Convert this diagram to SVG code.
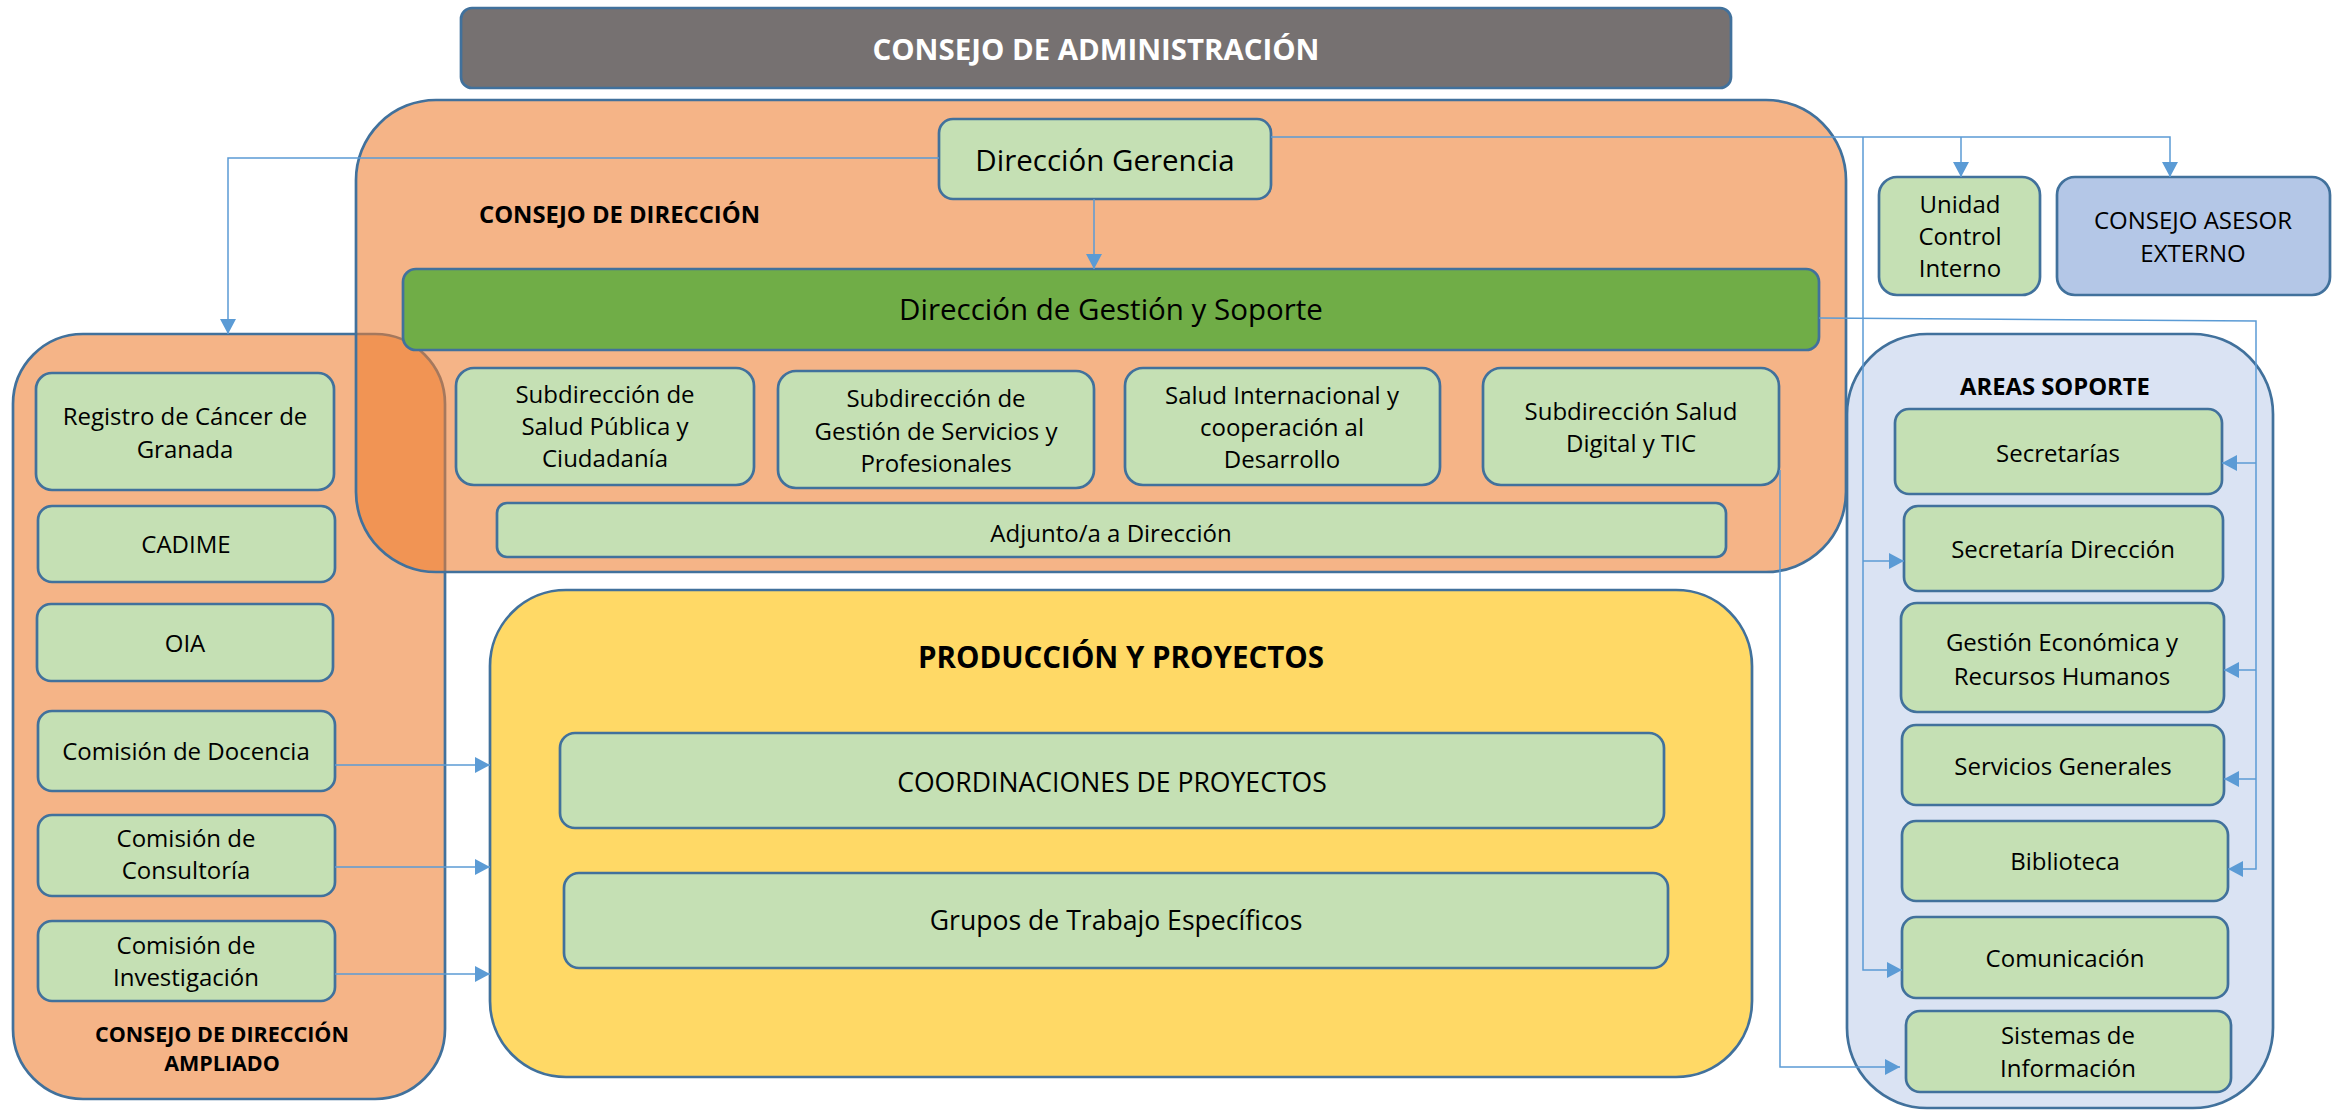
<svg xmlns="http://www.w3.org/2000/svg" width="2347" height="1110" viewBox="0 0 2347 1110">
<defs>
<style>
.box{stroke:#41719C;stroke-width:2.7}
.lg{fill:#C5E0B4}
.t{font-family:"Open Sans","Noto Sans","Liberation Sans",sans-serif;fill:#000;text-anchor:middle}
.s24{font-size:24px}
.s26{font-size:26.6px}
.s29{font-size:29.5px}
.b{font-weight:bold}
.c{fill:none;stroke:#5B9BD5;stroke-width:1.5}
.ca{fill:none;stroke:#5B9BD5;stroke-width:1.5;marker-end:url(#ah)}
</style>
<marker id="ah" markerUnits="userSpaceOnUse" markerWidth="16" markerHeight="16" refX="15" refY="8" orient="auto">
<path d="M0,0 L15,8 L0,16 z" fill="#5B9BD5"/>
</marker>
</defs>
<rect width="2347" height="1110" fill="#fff"/>

<g id="consejo-administracion">
<rect class="box" x="461" y="8" width="1270" height="80" rx="11" fill="#767171"/>
<text class="t b" x="1096" y="60" style="font-size:29.4px;fill:#fff">CONSEJO DE ADMINISTRACIÓN</text>
</g>

<g id="consejo-direccion-ampliado">
<rect class="box" x="13" y="334" width="432" height="765" rx="70" fill="#ED7D31" fill-opacity="0.58"/>
<text class="t b" x="222" y="1042" style="font-size:21.5px">CONSEJO DE DIRECCIÓN</text>
<text class="t b" x="222" y="1071" style="font-size:21.5px">AMPLIADO</text>
</g>

<g id="consejo-direccion">
<rect class="box" x="356" y="100" width="1490" height="472" rx="80" fill="#ED7D31" fill-opacity="0.58"/>
<text class="t b" x="479" y="223" style="font-size:23.8px;text-anchor:start">CONSEJO DE DIRECCIÓN</text>
</g>

<g id="produccion-proyectos">
<rect class="box" x="490" y="590" width="1262" height="487" rx="76" fill="#FFD966"/>
<text class="t b" x="1121" y="668" style="font-size:29.5px">PRODUCCIÓN Y PROYECTOS</text>
</g>

<g id="areas-soporte">
<rect class="box" x="1847" y="334" width="426" height="774" rx="80" fill="#DAE3F3"/>
<text class="t b" x="2055" y="395" style="font-size:23.8px">AREAS SOPORTE</text>
</g>

<g id="direccion-gerencia">
<rect class="box lg" x="939" y="119" width="332" height="80" rx="14"/>
<text class="t s29" x="1105" y="171">Dirección Gerencia</text>
</g>

<g id="direccion-gestion-soporte">
<rect class="box" x="403" y="269" width="1416" height="81" rx="13" fill="#70AD47"/>
<text class="t s29" x="1111" y="320">Dirección de Gestión y Soporte</text>
</g>

<g id="sub-salud-publica">
<rect class="box lg" x="456" y="368" width="298" height="117" rx="18"/>
<text class="t s24" x="605" y="403">Subdirección de</text>
<text class="t s24" x="605" y="435">Salud Pública y</text>
<text class="t s24" x="605" y="467">Ciudadanía</text>
</g>

<g id="sub-gestion-servicios">
<rect class="box lg" x="778" y="371" width="316" height="117" rx="18"/>
<text class="t s24" x="936" y="407">Subdirección de</text>
<text class="t s24" x="936" y="440">Gestión de Servicios y</text>
<text class="t s24" x="936" y="472">Profesionales</text>
</g>

<g id="salud-internacional">
<rect class="box lg" x="1125" y="368" width="315" height="117" rx="18"/>
<text class="t s24" x="1282" y="404">Salud Internacional y</text>
<text class="t s24" x="1282" y="436">cooperación al</text>
<text class="t s24" x="1282" y="468">Desarrollo</text>
</g>

<g id="sub-salud-digital">
<rect class="box lg" x="1483" y="368" width="296" height="117" rx="18"/>
<text class="t s24" x="1631" y="420">Subdirección Salud</text>
<text class="t s24" x="1631" y="452">Digital y TIC</text>
</g>

<g id="adjunto-direccion">
<rect class="box lg" x="497" y="503" width="1229" height="54" rx="10"/>
<text class="t s24" x="1111" y="542">Adjunto/a a Dirección</text>
</g>

<g id="unidad-control-interno">
<rect class="box lg" x="1879" y="177" width="161" height="118" rx="18"/>
<text class="t s24" x="1960" y="213">Unidad</text>
<text class="t s24" x="1960" y="245">Control</text>
<text class="t s24" x="1960" y="277">Interno</text>
</g>

<g id="consejo-asesor-externo">
<rect class="box" x="2057" y="177" width="273" height="118" rx="18" fill="#B4C7E7"/>
<text class="t s24" x="2193" y="229">CONSEJO ASESOR</text>
<text class="t s24" x="2193" y="262">EXTERNO</text>
</g>

<g id="registro-cancer">
<rect class="box lg" x="36" y="373" width="298" height="117" rx="16"/>
<text class="t s24" x="185" y="425">Registro de Cáncer de</text>
<text class="t s24" x="185" y="458">Granada</text>
</g>

<g id="cadime">
<rect class="box lg" x="38" y="506" width="297" height="76" rx="14"/>
<text class="t s24" x="186" y="553">CADIME</text>
</g>

<g id="oia">
<rect class="box lg" x="37" y="604" width="296" height="77" rx="14"/>
<text class="t s24" x="185" y="652">OIA</text>
</g>

<g id="comision-docencia">
<rect class="box lg" x="38" y="711" width="297" height="80" rx="14"/>
<text class="t s24" x="186" y="760">Comisión de Docencia</text>
</g>

<g id="comision-consultoria">
<rect class="box lg" x="38" y="815" width="297" height="81" rx="14"/>
<text class="t s24" x="186" y="847">Comisión de</text>
<text class="t s24" x="186" y="879">Consultoría</text>
</g>

<g id="comision-investigacion">
<rect class="box lg" x="38" y="921" width="297" height="80" rx="14"/>
<text class="t s24" x="186" y="954">Comisión de</text>
<text class="t s24" x="186" y="986">Investigación</text>
</g>

<g id="coordinaciones-proyectos">
<rect class="box lg" x="560" y="733" width="1104" height="95" rx="15"/>
<text class="t s26" x="1112" y="792">COORDINACIONES DE PROYECTOS</text>
</g>

<g id="grupos-trabajo">
<rect class="box lg" x="564" y="873" width="1104" height="95" rx="15"/>
<text class="t s26" x="1116" y="930">Grupos de Trabajo Específicos</text>
</g>

<g id="secretarias">
<rect class="box lg" x="1895" y="409" width="327" height="85" rx="14"/>
<text class="t s24" x="2058" y="462">Secretarías</text>
</g>

<g id="secretaria-direccion">
<rect class="box lg" x="1904" y="506" width="319" height="85" rx="14"/>
<text class="t s24" x="2063" y="558">Secretaría Dirección</text>
</g>

<g id="gestion-economica">
<rect class="box lg" x="1901" y="603" width="323" height="109" rx="16"/>
<text class="t s24" x="2062" y="651">Gestión Económica y</text>
<text class="t s24" x="2062" y="685">Recursos Humanos</text>
</g>

<g id="servicios-generales">
<rect class="box lg" x="1902" y="725" width="322" height="80" rx="14"/>
<text class="t s24" x="2063" y="775">Servicios Generales</text>
</g>

<g id="biblioteca">
<rect class="box lg" x="1902" y="821" width="326" height="80" rx="14"/>
<text class="t s24" x="2065" y="870">Biblioteca</text>
</g>

<g id="comunicacion">
<rect class="box lg" x="1902" y="917" width="326" height="81" rx="14"/>
<text class="t s24" x="2065" y="967">Comunicación</text>
</g>

<g id="sistemas-informacion">
<rect class="box lg" x="1906" y="1011" width="325" height="81" rx="14"/>
<text class="t s24" x="2068" y="1044">Sistemas de</text>
<text class="t s24" x="2068" y="1077">Información</text>
</g>

<g id="connectors">
<path class="ca" d="M939,158 H228 V334"/>
<path class="ca" d="M1094,199 V269"/>
<path class="ca" d="M1271,137 H2170 V177"/>
<path class="ca" d="M1961,137 V177"/>
<path class="ca" d="M1863,137 V970 H1902"/>
<path class="ca" d="M1863,561 H1904"/>
<path class="ca" d="M1819,318 L2256,321 V869 H2228"/>
<path class="ca" d="M2256,463 H2222"/>
<path class="ca" d="M2256,670 H2224"/>
<path class="ca" d="M2256,779 H2224"/>
<path class="ca" d="M1780,470 V1067 H1900"/>
<path class="ca" d="M335,765 H490"/>
<path class="ca" d="M335,867 H490"/>
<path class="ca" d="M335,974 H490"/>
</g>
</svg>
